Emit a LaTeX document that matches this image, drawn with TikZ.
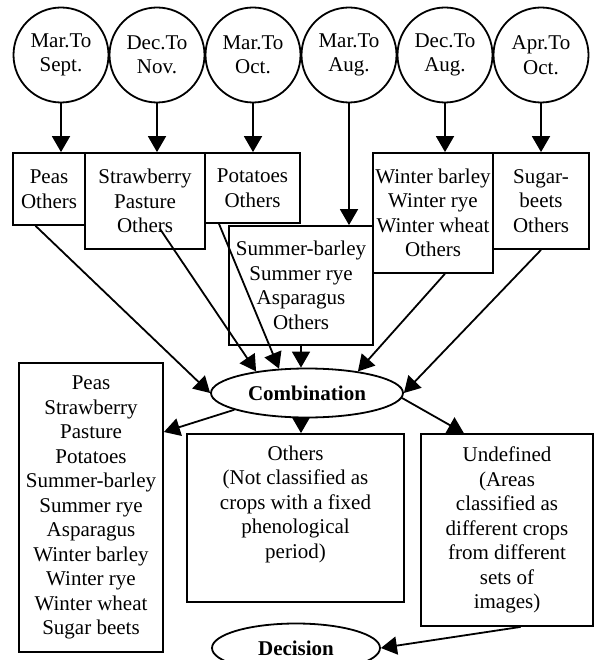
\documentclass[tikz,border=0pt]{standalone}
\usepackage{fontspec}
\setmainfont{Liberation Serif}
\usepackage{tikz}
\usetikzlibrary{calc,arrows.meta,shapes.geometric}

\begin{document}
\begin{tikzpicture}[x=1pt, y=-1pt, >={Triangle[length=16pt,width=18pt]},
    line width=1.8pt, font=\fontsize{21}{24.5}\selectfont,
    period/.style={draw, circle, minimum size=95pt, inner sep=0pt, align=center},
    crop/.style={draw, rectangle, inner sep=0pt, align=center},
    merge/.style={draw, ellipse, inner sep=0pt, font=\fontsize{21}{24.5}\selectfont\bfseries},
    flow/.style={->}]
    \clip (0,0) rectangle (595,660);

    % Phenological periods
    \node[period] (p1) at (61,55)  {Mar.To\\Sept.};
    \node[period] (p2) at (157,55) {Dec.To\\Nov.};
    \node[period] (p3) at (253,55) {Mar.To\\Oct.};
    \node[period] (p4) at (349,55) {Mar.To\\Aug.};
    \node[period] (p5) at (445,55) {Dec.To\\Aug.};
    \node[period] (p6) at (541,55) {Apr.To\\Oct.};

    % Crops per period
    \node[crop, minimum width=72pt, minimum height=72pt] (peas) at (49,189) {Peas\\Others};
    \node[crop, minimum width=120pt, minimum height=96pt] (straw) at (145,201) {Strawberry\\Pasture\\Others};
    \node[crop, minimum width=95pt, minimum height=70pt] (pota) at (252.5,188) {Potatoes\\Others};
    \node[crop, minimum width=144pt, minimum height=119pt] (summer) at (301,285.5) {Summer-barley\\Summer rye\\Asparagus\\Others};
    \node[crop, minimum width=120pt, minimum height=120pt] (winter) at (433,213) {Winter barley\\Winter rye\\Winter wheat\\Others};
    \node[crop, minimum width=96pt, minimum height=96pt] (sugar) at (541,201) {Sugar-\\beets\\Others};

    \foreach \p/\c in {p1/peas, p2/straw, p3/pota, p4/summer, p5/winter, p6/sugar}
        \draw[flow] (\p.south) -- (\p.south |- \c.north);

    % Combination
    \node[merge, minimum width=192pt, minimum height=49pt] (comb) at (307,393) {Combination};

    \draw[flow] (peas.250) -- (comb.west);
    \draw[flow] ($(straw.south)+(15,-21)$) -- (comb.157);
    \draw[flow] (pota.227) -- (comb.139);
    \draw[flow] (summer.south) -- (summer.south |- comb.north);
    \draw[flow] (winter.281) -- (comb.23);
    \draw[flow] (sugar.south) -- (comb.east);

    % Results
    \node[crop, minimum width=144pt, minimum height=289pt] (crops) at (91,507.5) {Peas\\Strawberry\\Pasture\\Potatoes\\Summer-barley\\Summer rye\\Asparagus\\Winter barley\\Winter rye\\Winter wheat\\Sugar beets};
    \node[crop, minimum width=217pt, minimum height=168pt] (others) at (295.5,518) {Others\\(Not classified as\\crops with a fixed\\phenological\\period)\\ \strut};
    \node[crop, minimum width=172pt, minimum height=192pt] (undef) at (507,530) {Undefined\\(Areas\\classified as\\different crops\\from different\\sets of\\images)};

    \draw[flow] (comb.193) -- (crops.46);
    \draw[flow] (summer.south |- comb.south) -- (summer.south |- others.north);
    \draw[flow] (comb.357) -- (undef.114);

    % Decision
    \node[merge, minimum width=168pt, minimum height=49pt] (decis) at (296,648) {Decision};
    \draw[flow] (undef.278) -- (decis.east);
\end{tikzpicture}
\end{document}
